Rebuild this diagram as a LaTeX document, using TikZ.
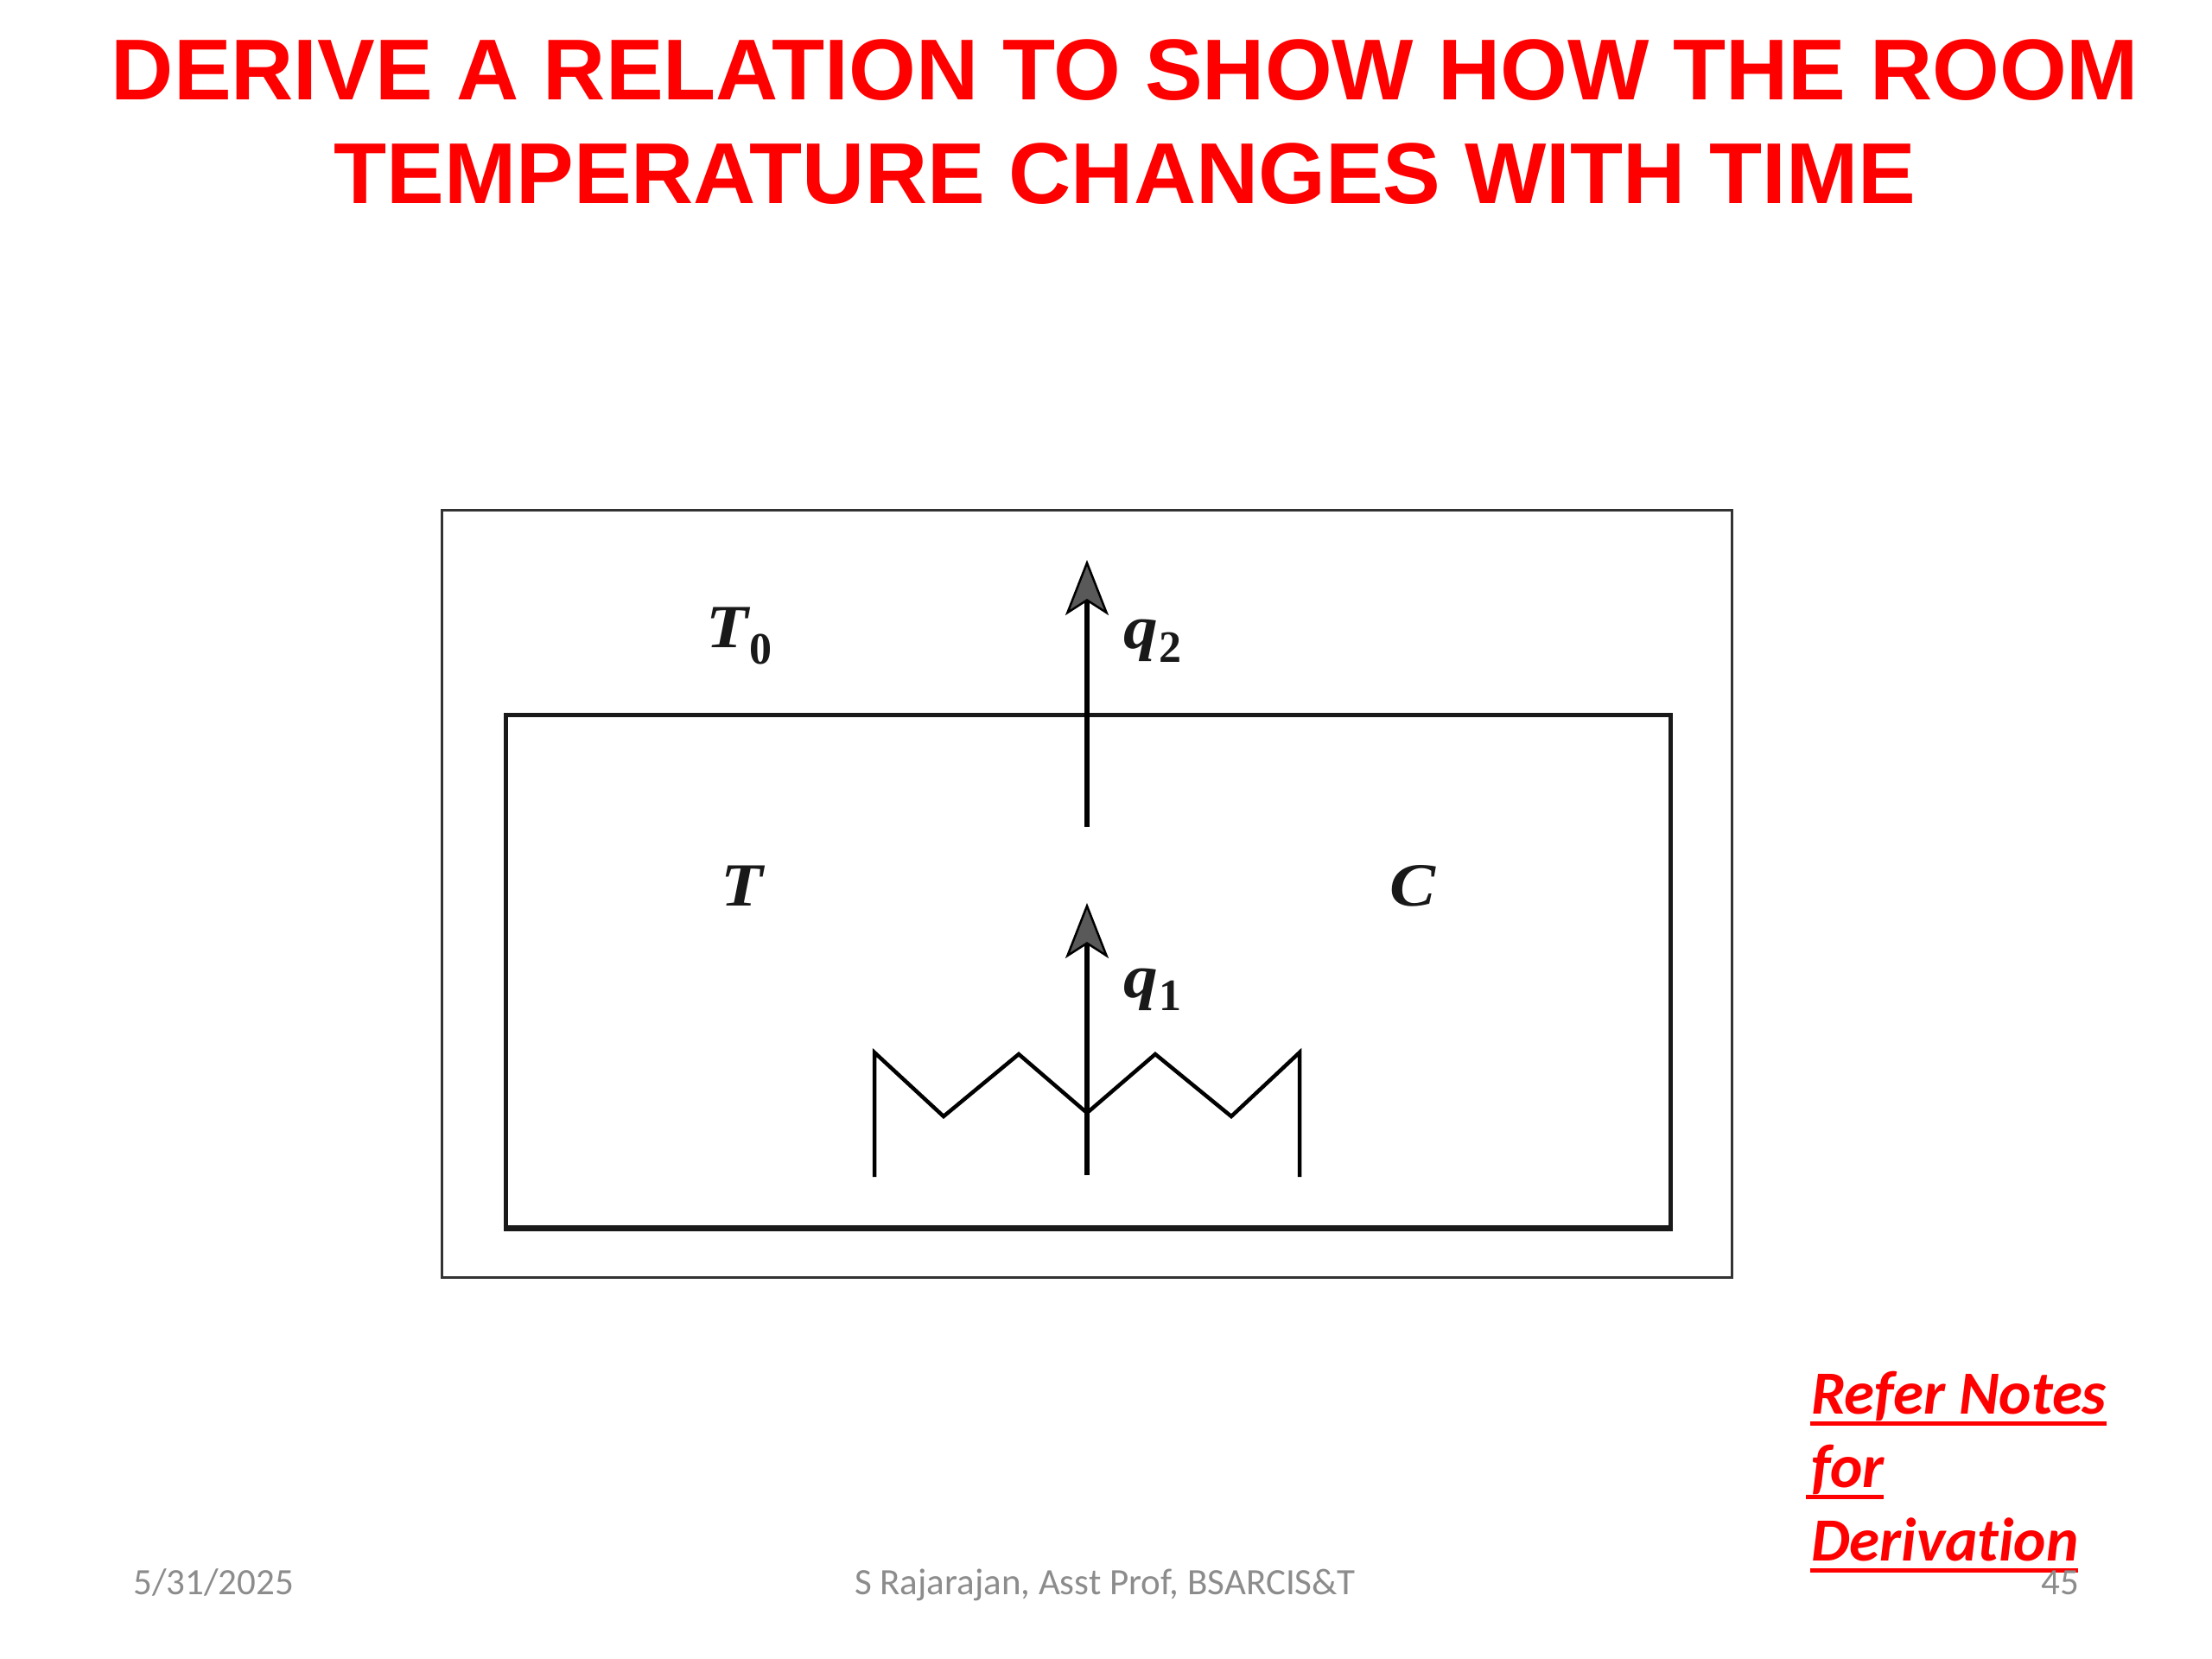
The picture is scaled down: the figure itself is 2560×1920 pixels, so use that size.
\documentclass[tikz,border=0pt]{standalone}
\usepackage{fontspec}
\usetikzlibrary{arrows.meta}
\setmainfont{Liberation Serif}
\newfontfamily\titlefont{Liberation Sans}
\newfontfamily\slidefont{Carlito}
\newfontfamily\notefont[Ligatures=NoCommon]{Carlito}
\newfontfamily\symfont[FakeStretch=1.12]{Liberation Serif}
\definecolor{slidered}{RGB}{255,0,0}
\definecolor{footgray}{RGB}{140,140,140}
\tikzset{
  x=1pt,y=-1pt,
  lbl/.style={anchor=base west,inner sep=0pt,outer sep=0pt},
  titletxt/.style={anchor=base,inner sep=0pt,text=slidered,font=\titlefont\bfseries\fontsize{100}{100}\selectfont},
  foottxt/.style={inner sep=0pt,text=footgray,font=\slidefont\fontsize{43}{43}\selectfont},
  notetxt/.style={lbl,text=slidered,font=\notefont\bfseries\itshape\fontsize{71}{71}\selectfont},
  symtxt/.style={lbl,text=black!90,font=\symfont\bfseries\itshape\fontsize{71}{71}\selectfont},
  subtxt/.style={lbl,text=black!90,font=\bfseries\fontsize{52}{52}\selectfont},
  outerbox/.style={draw=black!80,line width=3pt},
  innerbox/.style={draw=black!90,line width=5pt,line join=miter},
  wire/.style={draw=black,line width=4.5pt,line join=miter},
  heatarrow/.style={draw=black,line width=6pt,-{Stealth[length=64pt,width=50pt,inset=16pt,line width=2.5pt,fill=black!65]}},
  stem/.style={draw=black,line width=6pt},
  ul/.style={draw=slidered,line width=5pt}
}
\begin{document}
\begin{tikzpicture}
\useasboundingbox (0,0) rectangle (2560,1920);
\fill[white] (0,0) rectangle (2560,1920);
% title
\node[titletxt] (title1) at (1302,115) {DERIVE A RELATION TO SHOW HOW THE ROOM};
\node[titletxt] (title2) at (1302,235) {TEMPERATURE CHANGES WITH TIME};
% boxes
\draw[outerbox] (511,590) rectangle (2004,1478);
\draw[innerbox] (585,827) rectangle (1933,1421);
\draw[innerbox,line width=7pt] (582.5,1421) -- (1935.5,1421);
% coordinates
\coordinate (a2s) at (1258,827);
\coordinate (a2t) at (1258,648);
\coordinate (a2b) at (1258,957);
\coordinate (a1s) at (1258,1360);
\coordinate (a1t) at (1258,1045);
\coordinate (z0) at (1012,1362);
\coordinate (z1) at (1012,1218);
\coordinate (z2) at (1092,1292);
\coordinate (z3) at (1179,1220);
\coordinate (z4) at (1258,1288);
\coordinate (z5) at (1337,1220);
\coordinate (z6) at (1425,1292);
\coordinate (z7) at (1504,1218);
\coordinate (z8) at (1504,1362);
% arrows
\draw[heatarrow] (a2s) -- (a2t);
\draw[stem] (a2s) -- (a2b);
\draw[heatarrow] (a1s) -- (a1t);
% heater
\draw[wire] (z0) -- (z1) -- (z2) -- (z3) -- (z4) -- (z5) -- (z6) -- (z7) -- (z8);
% labels
\node[symtxt] (T0) at (817,749) {T};
\node[subtxt] (T0s) at (867,768) {0};
\node[symtxt] (q2) at (1300,750) {q};
\node[subtxt] (q2s) at (1341,766) {2};
\node[symtxt] (T) at (834,1048) {T};
\node[symtxt] (C) at (1608,1048) {C};
\node[symtxt] (q1) at (1300,1154) {q};
\node[subtxt] (q1s) at (1341,1169) {1};
% note
\node[notetxt] (n1) at (2096,1636) {Refer Notes};
\node[notetxt] (n2) at (2096,1721) {for};
\node[notetxt] (n3) at (2096,1806) {Derivation};
\draw[ul] (2095,1647) -- (2438,1647);
\draw[ul] (2090,1732) -- (2180,1732);
\draw[ul] (2095,1817) -- (2405,1817);
% footer
\node[foottxt,anchor=base west] (date) at (154,1845) {5/31/2025};
\node[foottxt,anchor=base] (auth) at (1279,1845) {S Rajarajan, Asst Prof, BSARCIS\&T};
\node[foottxt,anchor=base east] (page) at (2406,1845) {45};
\end{tikzpicture}
\end{document}
